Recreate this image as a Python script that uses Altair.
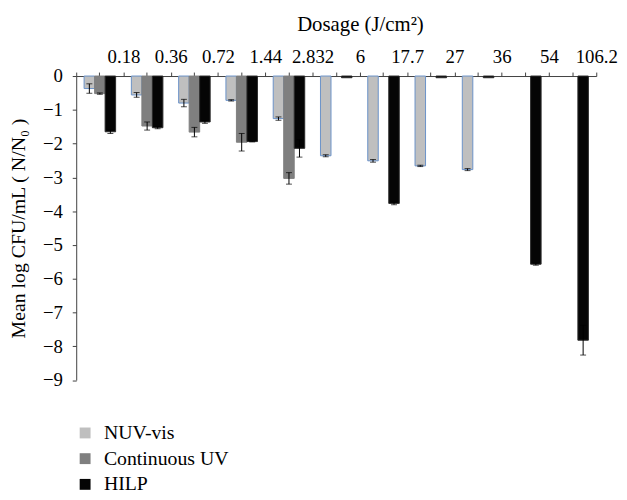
import altair as alt
import pandas as pd

doses = ["0.18", "0.36", "0.72", "1.44", "2.832", "6", "17.7", "27", "36", "54", "106.2"]
series = ["NUV-vis", "Continuous UV", "HILP"]
nuv = [-0.37, -0.56, -0.80, -0.72, -1.26, -2.36, -2.51, -2.66, -2.77, None, None]
nuv_err = [0.14, 0.07, 0.11, 0.02, 0.05, 0.03, 0.04, 0.02, 0.03, None, None]
cont = [-0.52, -1.48, -1.66, -1.96, -3.03, None, None, None, None, None, None]
cont_err = [0.02, 0.12, 0.14, 0.26, 0.17, None, None, None, None, None, None]
hilp = [-1.65, -1.53, -1.36, -1.94, -2.14, -0.05, -3.77, -0.05, -0.05, -5.57, -7.82]
hilp_err = [0.05, 0.03, 0.04, 0.01, 0.26, None, 0.04, None, None, 0.03, 0.44]
y_ticks = [-9, -8, -7, -6, -5, -4, -3, -2, -1, 0]

rows = []
for vals, errs, s in [(nuv, nuv_err, series[0]), (cont, cont_err, series[1]), (hilp, hilp_err, series[2])]:
    for d, v, e in zip(doses, vals, errs):
        if v is not None:
            rows.append({"dose": d, "series": s, "value": v, "err": e})
df = pd.DataFrame(rows)

FONT = "Liberation Serif"
STEP = 526 / 11

xscale = alt.Scale(domain=doses, paddingInner=0, paddingOuter=0)
offscale = alt.Scale(domain=series, paddingOuter=0.75, paddingInner=0)
yscale = alt.Scale(domain=[-9, 0], nice=False, zero=False)
yaxis = alt.Axis(title="Mean log CFU/mL ( N/N₀ )", values=y_ticks, tickCount=10,
                 tickSize=4, labelPadding=10, titlePadding=14, grid=False,
                 labelOverlap=False, titleFontSize=20,
                 domainColor="#404040", tickColor="#404040")

base = alt.Chart(df)

bars = base.mark_bar(strokeWidth=1).encode(
    x=alt.X("dose:N", scale=xscale, sort=doses,
            axis=alt.Axis(orient="top", title="Dosage (J/cm²)", tickBand="extent",
                          labelAngle=0, labelOffset=STEP / 2, tickSize=4,
                          labelPadding=6, titleX=287, titleY=-46, titleAlign="center",
                          titleBaseline="alphabetic", titleFontSize=21,
                          domainColor="#404040", tickColor="#404040")),
    xOffset=alt.XOffset("series:N", scale=offscale, sort=series),
    y=alt.Y("value:Q", scale=yscale, axis=yaxis),
    fill=alt.Fill("series:N", sort=series,
                  scale=alt.Scale(domain=series, range=["#bfbfbf", "#7f7f7f", "#050505"]),
                  legend=alt.Legend(title=None, orient="none", legendX=-1, legendY=351,
                                    symbolType="square", symbolSize=121, symbolStrokeWidth=0,
                                    labelFontSize=20, labelFont=FONT, rowPadding=6,
                                    labelOffset=9, padding=0)),
    stroke=alt.Stroke("series:N", sort=series,
                      scale=alt.Scale(domain=series, range=["#6a92c8", "#7f7f7f", "#2a2a2a"]),
                      legend=None),
)

err = base.transform_filter("isValid(datum.err)").transform_calculate(
    lo="datum.value - datum.err", hi="datum.value + datum.err"
)

rules = err.mark_rule(color="black", strokeWidth=1).encode(
    x=alt.X("dose:N", scale=xscale, sort=doses,
            axis=alt.Axis(orient="top", title=None, labels=False, domain=False,
                          tickSize=4, tickColor="#404040")),
    xOffset=alt.XOffset("series:N", scale=offscale, sort=series),
    y=alt.Y("lo:Q", scale=yscale, axis=yaxis),
    y2="hi:Q",
)
caps_lo = err.mark_tick(color="black", thickness=1, size=6, orient="horizontal").encode(
    x=alt.X("dose:N", scale=xscale, sort=doses, axis=None),
    xOffset=alt.XOffset("series:N", scale=offscale, sort=series),
    y=alt.Y("lo:Q", scale=yscale, axis=yaxis),
)
caps_hi = err.mark_tick(color="black", thickness=1, size=6, orient="horizontal").encode(
    x=alt.X("dose:N", scale=xscale, sort=doses, axis=None),
    xOffset=alt.XOffset("series:N", scale=offscale, sort=series),
    y=alt.Y("hi:Q", scale=yscale, axis=yaxis),
)

chart = alt.layer(bars, rules, caps_lo, caps_hi).resolve_axis(x="independent").properties(
    width=526, height=307.5,
    autosize=alt.AutoSizeParams(type="none"),
    padding={"left": 69, "top": 66, "right": 23, "bottom": 118},
).configure_view(stroke=None).configure_axis(
    labelFont=FONT, titleFont=FONT, labelFontSize=19, titleFontSize=20,
    labelColor="black", titleColor="black", titleFontWeight="normal",
).configure_legend(labelColor="black")

chart.save("out.html", embed_options={"renderer": "svg", "actions": False})
